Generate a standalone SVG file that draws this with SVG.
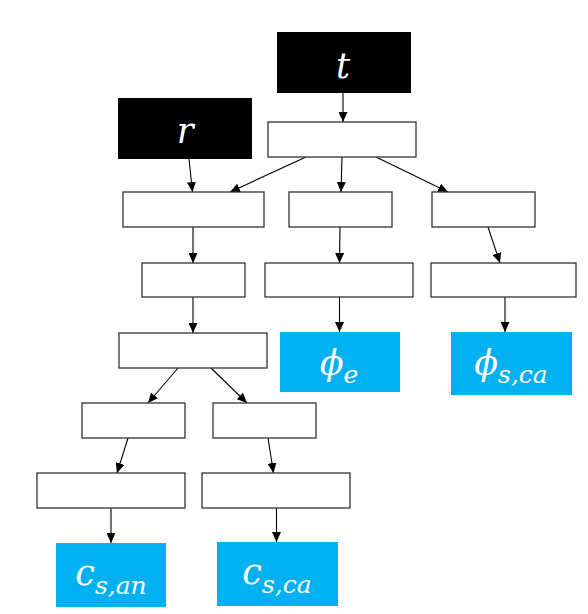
<svg xmlns="http://www.w3.org/2000/svg" width="588" height="614" viewBox="0 0 588 614">
<defs>
<marker id="ah" markerWidth="10" markerHeight="9" refX="10" refY="4.5" orient="auto" markerUnits="userSpaceOnUse">
<path d="M0,0 L10,4.5 L0,9 z" fill="#000"/>
</marker>
<style>
.box{fill:#fff;stroke:#333;stroke-width:1.3}
.blk{fill:#000}
.blu{fill:#00B0F0}
.lbl{font-family:"DejaVu Serif",serif;font-style:italic;fill:#fff;text-anchor:middle}
.big{font-size:35px}
.sub{font-size:25px}
.cn line{stroke:#000;stroke-width:1.1;marker-end:url(#ah)}
</style>
</defs>
<rect width="588" height="614" fill="#fff"/>
<g id="connectors" class="cn">
<line x1="343" y1="93" x2="343" y2="122"/>
<line x1="189" y1="159" x2="192.5" y2="192"/>
<line x1="306" y1="157" x2="230" y2="192"/>
<line x1="342" y1="157" x2="341" y2="192"/>
<line x1="376" y1="157" x2="448" y2="192"/>
<line x1="193" y1="227" x2="193" y2="263"/>
<line x1="340" y1="227" x2="339.5" y2="263"/>
<line x1="488" y1="227" x2="500" y2="263"/>
<line x1="193" y1="297" x2="193" y2="333"/>
<line x1="339.5" y1="297" x2="339.5" y2="332"/>
<line x1="505" y1="297" x2="505" y2="332"/>
<line x1="178" y1="368" x2="148" y2="403"/>
<line x1="211" y1="368" x2="247" y2="403"/>
<line x1="128" y1="438" x2="117" y2="473"/>
<line x1="268" y1="438" x2="273.5" y2="473"/>
<line x1="111" y1="508" x2="111" y2="543"/>
<line x1="276.5" y1="508" x2="276.5" y2="542"/>
</g>
<g id="node-t"><rect class="blk" x="277" y="32" width="134" height="61"/><text class="lbl big" x="343" y="78">t</text></g>
<g id="node-r"><rect class="blk" x="118" y="98" width="134" height="61"/><text class="lbl big" x="185" y="143">r</text></g>
<g id="node-top"><rect class="box" x="268" y="122" width="148" height="35"/></g>
<g id="node-a"><rect class="box" x="123" y="192" width="141" height="35"/></g>
<g id="node-b"><rect class="box" x="289" y="192" width="103" height="35"/></g>
<g id="node-c"><rect class="box" x="432" y="192" width="103" height="35"/></g>
<g id="node-a2"><rect class="box" x="142" y="263" width="103" height="34"/></g>
<g id="node-b2"><rect class="box" x="265" y="263" width="148" height="34"/></g>
<g id="node-c2"><rect class="box" x="431" y="263" width="145" height="34"/></g>
<g id="node-d"><rect class="box" x="119" y="333" width="148" height="35"/></g>
<g id="node-phi-e"><rect class="blu" x="280" y="332" width="120" height="60"/><text class="lbl big" x="339" y="375">ϕ<tspan class="sub" dy="8">e</tspan></text></g>
<g id="node-phi-sca"><rect class="blu" x="451" y="332" width="121" height="63"/><text class="lbl big" x="511" y="375">ϕ<tspan class="sub" dy="8">s,ca</tspan></text></g>
<g id="node-e"><rect class="box" x="82" y="403" width="103" height="35"/></g>
<g id="node-f"><rect class="box" x="213" y="403" width="103" height="35"/></g>
<g id="node-g"><rect class="box" x="37" y="473" width="148" height="35"/></g>
<g id="node-h"><rect class="box" x="202" y="473" width="148" height="35"/></g>
<g id="node-c-san"><rect class="blu" x="56" y="543" width="110" height="64"/><text class="lbl big" x="111" y="585">c<tspan class="sub" dy="9">s,an</tspan></text></g>
<g id="node-c-sca"><rect class="blu" x="217" y="542" width="121" height="64"/><text class="lbl big" x="277" y="584">c<tspan class="sub" dy="9">s,ca</tspan></text></g>
</svg>
